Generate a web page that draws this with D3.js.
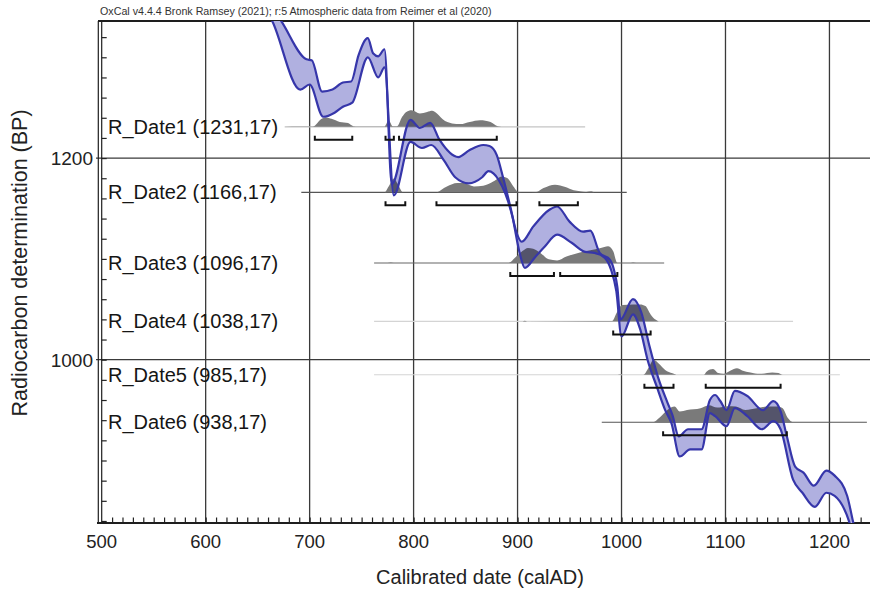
<!DOCTYPE html>
<html>
<head>
<meta charset="utf-8">
<script src="https://cdn.jsdelivr.net/npm/d3@7"></script>
<style>
  body { margin: 0; background: #fff; }
  text { font-family: "Liberation Sans", Arial, sans-serif; }
</style>
</head>
<body>
<svg id="chart" width="870" height="589"></svg>
<script>
// dates: name, radiocarbon age, error
const dateNames = ["R_Date1", "R_Date2", "R_Date3", "R_Date4", "R_Date5", "R_Date6"];
const dateBP = [1231, 1166, 1096, 1038, 985, 938];
const dateErr = [17, 17, 17, 17, 17, 17];

// calibrated probability distributions [calAD, relative probability]
const dist1 = [[676,0],[690,0.02],[703,0.02],[712,0.49],[716,0.55],[721,0.47],[729,0.29],[737,0.22],[742,0.04],[747,0.02],[772,0.02],[776,0.39],[780,0.03],[784,0.03],[789,0.59],[793,0.88],[798,0.98],[806,0.79],[813,0.88],[818,0.94],[824,0.69],[828,0.44],[837,0.2],[845,0.16],[854,0.29],[864,0.39],[874,0.29],[881,0.04],[888,0.01],[965,0]];
const dist2 = [[692,0],[772,0],[776,0.35],[781,0.82],[785,0.47],[790,0],[797,0.01],[821,0],[832,0.35],[842,0.55],[848,0.55],[858,0.35],[867,0.39],[877,0.65],[885,0.94],[890,0.85],[896,0.35],[901,0.02],[908,0.01],[918,0.02],[925,0.25],[936,0.45],[946,0.31],[954,0.12],[960,0.06],[966,0.02],[971,0.06],[974,0.01],[1005,0]];
const dist3 = [[762,0],[775,0],[778,0.03],[781,0],[891,0],[899,0.39],[905,0.71],[910,0.88],[915,0.84],[922,0.59],[930,0.21],[938,0.15],[947,0.38],[960,0.62],[970,0.74],[980,0.88],[987,0.98],[992,0.68],[996,0],[1009,0],[1011,0.03],[1014,0],[1041,0]];
const dist4 = [[762,0],[905,0],[907,0.04],[909,0],[978,0.02],[991,0.03],[995,0.47],[998,0.82],[1001,0.97],[1011,1.0],[1018,1.0],[1023,0.9],[1028,0.41],[1033,0.09],[1036,0],[1165,0]];
const dist5 = [[762,0],[996,0],[999,0.03],[1002,0],[1021,0],[1026,0.41],[1031,0.88],[1036,0.65],[1042,0.29],[1049,0.09],[1054,0],[1079,0],[1082,0.2],[1088,0.34],[1093,0.1],[1098,0.06],[1105,0.26],[1111,0.39],[1116,0.26],[1124,0.14],[1133,0.06],[1145,0.14],[1151,0.1],[1155,0],[1210,0]];
const dist6 = [[981,0],[1030,0],[1037,0.29],[1045,0.76],[1051,0.92],[1056,0.63],[1063,0.72],[1076,0.82],[1084,1.0],[1092,0.86],[1102,0.94],[1110,0.92],[1119,0.72],[1130,0.82],[1140,0.92],[1150,0.92],[1155,0.82],[1160,0.24],[1165,0],[1236,0]];
const dists = [dist1, dist2, dist3, dist4, dist5, dist6];

// 95.4% ranges (calAD)
const ranges = [
  [[705,741],[773,781],[786,880]],
  [[773,792],[822,899],[921,958]],
  [[893,935],[941,996]],
  [[992,1028]],
  [[1022,1050],[1081,1153]],
  [[1040,1159]]
];

// calibration curve, +/- 1 sigma edges [calAD, BP]
const curveUpper = [[660,1354],[672,1337],[697,1298],[702,1297],[712,1266],[722,1268],[732,1275],[740,1276],[747,1302],[756,1319],[761,1304],[766,1301],[772,1308],[779,1174],[797,1238],[806,1230],[816,1235],[825,1218],[843,1201],[854,1208],[867,1213],[873,1212],[880,1203],[886,1181],[893,1152],[899,1126],[904,1117],[915,1132],[931,1149],[938,1152],[950,1137],[963,1127],[970,1128],[979,1106],[989,1099],[993,1088],[996,1072],[999,1040],[1011,1060],[1019,1047],[1027,1013],[1035,983],[1044,958],[1049,945],[1055,924],[1064,931],[1077,931],[1085,960],[1090,965],[1095,959],[1101,950],[1109,969],[1121,964],[1136,950],[1146,959],[1153,949],[1159,924],[1167,894],[1175,888],[1185,875],[1197,890],[1205,885],[1217,865],[1223,838],[1226,825]];
const curveLower = [[655,1353],[664,1336],[691,1268],[700,1273],[713,1241],[724,1245],[732,1251],[741,1255],[756,1300],[766,1280],[772,1290],[781,1163],[797,1216],[808,1210],[817,1213],[829,1198],[840,1181],[853,1175],[866,1181],[872,1187],[882,1178],[895,1142],[902,1106],[907,1091],[917,1102],[926,1112],[938,1124],[952,1116],[965,1107],[974,1106],[984,1101],[990,1089],[995,1068],[1000,1023],[1011,1045],[1018,1030],[1025,1000],[1034,973],[1042,950],[1048,937],[1056,904],[1066,911],[1077,911],[1085,947],[1090,944],[1101,934],[1109,952],[1121,944],[1135,931],[1146,939],[1153,931],[1165,881],[1174,868],[1186,854],[1197,868],[1205,865],[1220,836],[1223,825]];

const xTickLabels = [500, 600, 700, 800, 900, 1000, 1100, 1200];
const yTickLabels = [1000, 1200];

const baseShade = ["#c4c4c4", "#555", "#666", "#d4d4d4", "#d4d4d4", "#555"];

const svg = d3.select("#chart");
const pLeft = 101.7, pRight = 870, pTop = 21, pBottom = 523;

const x = d3.scaleLinear().domain([500, 1239]).range([pLeft, pRight]);
const y = d3.scaleLinear().domain([838, 1336]).range([pBottom, pTop]);
const h = d3.scaleLinear().domain([0, 1]).range([0, 17]);

svg.append("rect").attr("width", 870).attr("height", 589).attr("fill", "#fff");

svg.append("defs").append("clipPath").attr("id", "plotclip")
  .append("rect").attr("x", pLeft).attr("y", pTop).attr("width", pRight - pLeft).attr("height", pBottom - pTop);

// header
svg.append("text").attr("x", 100).attr("y", 15)
  .attr("font-size", 10.7).attr("fill", "#333")
  .text("OxCal v4.4.4 Bronk Ramsey (2021); r:5 Atmospheric data from Reimer et al (2020)");

// grid
const grid = svg.append("g").attr("stroke", "#3a3a3a").attr("stroke-width", 1.3);
grid.selectAll(".vg").data(xTickLabels.slice(1)).enter().append("line")
  .attr("x1", d => x(d)).attr("x2", d => x(d)).attr("y1", pTop).attr("y2", pBottom);
grid.selectAll(".hg").data(yTickLabels).enter().append("line")
  .attr("x1", 96).attr("x2", pRight).attr("y1", d => y(d)).attr("y2", d => y(d));

// minor ticks
const xAxisG = svg.append("g").attr("transform", `translate(0,${pBottom})`)
  .call(d3.axisBottom(x).tickValues(d3.range(510, 1239, 10)).tickSize(-5.5).tickFormat(""));
xAxisG.select(".domain").remove();
xAxisG.selectAll("line").attr("stroke", "#222").attr("stroke-width", 1.2);

const yAxisG = svg.append("g").attr("transform", `translate(${pLeft},0)`)
  .call(d3.axisLeft(y).tickValues(d3.range(840, 1336, 20)).tickSize(-5).tickFormat(""));
yAxisG.select(".domain").remove();
yAxisG.selectAll("line").attr("stroke", "#222").attr("stroke-width", 1.2);

// frame lines
const frame = svg.append("g").attr("stroke", "#1e1e1e");
frame.append("line").attr("x1", 98).attr("x2", pRight).attr("y1", pTop).attr("y2", pTop).attr("stroke-width", 1.8);
frame.append("line").attr("x1", 97).attr("x2", pRight).attr("y1", pBottom).attr("y2", pBottom).attr("stroke-width", 1.8);
frame.append("line").attr("x1", 98.3).attr("x2", 98.3).attr("y1", pTop).attr("y2", pBottom).attr("stroke-width", 1.2);
frame.append("line").attr("x1", pLeft).attr("x2", pLeft).attr("y1", pTop).attr("y2", pBottom).attr("stroke-width", 1.2);

// tick labels
svg.selectAll(".xl").data(xTickLabels).enter().append("text")
  .attr("x", d => x(d)).attr("y", 548).attr("text-anchor", "middle")
  .attr("font-size", 18.5).attr("fill", "#222").text(d => d);
svg.selectAll(".yl").data(yTickLabels).enter().append("text")
  .attr("x", 93).attr("y", d => y(d) + 7).attr("text-anchor", "end")
  .attr("font-size", 19).attr("fill", "#222").text(d => d);

// axis titles
svg.append("text").attr("x", 480).attr("y", 584).attr("text-anchor", "middle")
  .attr("font-size", 20).attr("fill", "#222").text("Calibrated date (calAD)");
svg.append("text").attr("transform", "translate(27,263) rotate(-90)").attr("text-anchor", "middle")
  .attr("font-size", 21.5).attr("fill", "#222").text("Radiocarbon determination (BP)");

const plot = svg.append("g").attr("clip-path", "url(#plotclip)");

// distributions
dists.forEach((dist, i) => {
  const base = y(dateBP[i]);
  plot.append("line")
    .attr("x1", x(dist[0][0])).attr("x2", x(dist[dist.length - 1][0]))
    .attr("y1", base).attr("y2", base)
    .attr("stroke", baseShade[i]).attr("stroke-width", 1.1);
  const area = d3.area().curve(d3.curveMonotoneX)
    .x(d => x(d[0])).y0(base).y1(d => base - h(d[1]));
  plot.append("path").datum(dist).attr("d", area).attr("fill", "#7a7a7a");
});

// calibration curve band: upper edge, then lower edge walked backwards
const line = d3.line().curve(d3.curveMonotoneX).x(d => x(d[0])).y(d => y(d[1]));
const upperD = line(curveUpper);
const lowerD = line(curveLower.slice().reverse());
plot.append("path")
  .attr("d", upperD + lowerD.replace(/^M/, "L") + "Z")
  .attr("fill", "#b0b0e0").style("mix-blend-mode", "multiply");
[curveUpper, curveLower].forEach(edge => {
  plot.append("path").datum(edge).attr("d", line)
    .attr("fill", "none").attr("stroke", "#3636aa").attr("stroke-width", 2.2)
    .attr("stroke-linejoin", "round");
});

// range brackets
ranges.forEach((rs, i) => {
  const yb = y(dateBP[i]) + 13;
  rs.forEach(r => {
    svg.append("path")
      .attr("d", `M${x(r[0])},${yb - 4}L${x(r[0])},${yb}L${x(r[1])},${yb}L${x(r[1])},${yb - 4}`)
      .attr("fill", "none").attr("stroke", "#111").attr("stroke-width", 2);
  });
});

// date labels
svg.selectAll(".dl").data(dateNames).enter().append("text")
  .attr("x", 108).attr("y", (d, i) => y(dateBP[i]) + 7)
  .attr("font-size", 20).attr("fill", "#151515")
  .text((d, i) => `${d} (${dateBP[i]},${dateErr[i]})`);
</script>
</body>
</html>
